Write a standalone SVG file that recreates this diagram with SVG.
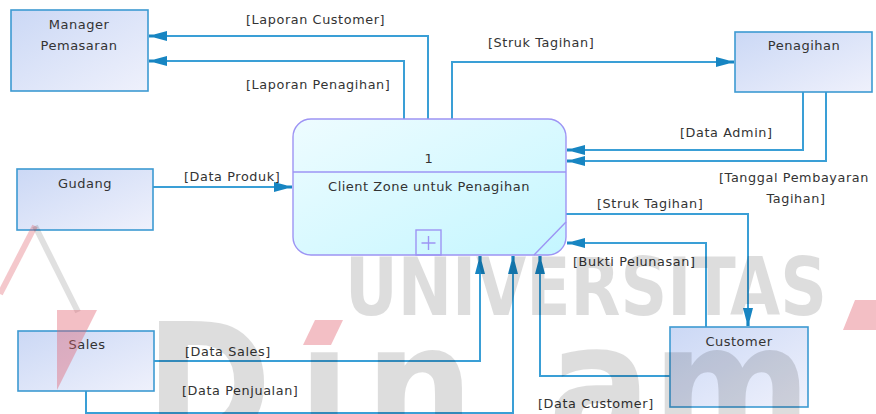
<svg xmlns="http://www.w3.org/2000/svg" width="876" height="414" viewBox="0 0 876 414">
<defs>
<linearGradient id="gBox" x1="0" y1="0" x2="1" y2="1">
<stop offset="0" stop-color="#cbd8f5"/>
<stop offset="1" stop-color="#eff1fc"/>
</linearGradient>
<linearGradient id="gProc" x1="0" y1="0" x2="1" y2="1">
<stop offset="0" stop-color="#eefcff"/>
<stop offset="1" stop-color="#c4f6ff"/>
</linearGradient>
<marker id="arr" viewBox="-19 -6 20 12" refX="0" refY="0" markerWidth="20" markerHeight="12" markerUnits="userSpaceOnUse" orient="auto">
<path d="M0,-1.6 L-5,-1.6 L-18,-5 L-18,5 L-5,1.6 L0,1.6 Z" fill="#1785c2"/>
</marker>
<style>
.box{fill:url(#gBox);stroke:#3d9ad2;stroke-width:1.6}
.proc{fill:url(#gProc);stroke:#9d94f4;stroke-width:1.4}
.pl{fill:none;stroke:#9d94f4;stroke-width:1.4}
.nt{font-family:"DejaVu Sans",sans-serif;font-size:13px;letter-spacing:0.5px;fill:#333;text-anchor:middle}
.lb{font-family:"DejaVu Sans",sans-serif;font-size:12.8px;letter-spacing:0.6px;fill:#333}
.c{fill:none;stroke:#3a9fd6;stroke-width:2}
.ca{fill:none;stroke:#3a9fd6;stroke-width:2;marker-end:url(#arr)}
.wm{font-family:"DejaVu Sans Condensed","DejaVu Sans",sans-serif;font-weight:bold;fill:#000;opacity:0.13}
.wr{fill:#e0606e;opacity:0.4}
</style>
</defs>

<g id="connectors">
<path class="ca" d="M428,119 V36 H149"/>
<path class="ca" d="M404,119 V61 H149"/>
<path class="ca" d="M452,119 V62 H734"/>
<path class="ca" d="M803,92 V150 H567"/>
<path class="ca" d="M826,92 V161 H567"/>
<path class="ca" d="M153,187 H292"/>
<path class="ca" d="M566,214 H748 V326"/>
<path class="ca" d="M706,327 V243 H567"/>
<path class="ca" d="M670,376 H540 V256"/>
<path class="ca" d="M154,361 H480 V256"/>
<path class="ca" d="M86,391 V413 H513 V256"/>
<text class="lb" x="246" y="24">[Laporan Customer]</text>
<text class="lb" x="246" y="89">[Laporan Penagihan]</text>
<text class="lb" x="488" y="47">[Struk Tagihan]</text>
<text class="lb" x="680" y="137">[Data Admin]</text>
<text class="lb" x="794" y="182" text-anchor="middle">[Tanggal Pembayaran</text>
<text class="lb" x="796" y="203" text-anchor="middle">Tagihan]</text>
<text class="lb" x="184" y="181">[Data Produk]</text>
<text class="lb" x="597" y="208">[Struk Tagihan]</text>
<text class="lb" x="573" y="266">[Bukti Pelunasan]</text>
<text class="lb" x="538" y="408">[Data Customer]</text>
<text class="lb" x="185" y="356">[Data Sales]</text>
<text class="lb" x="182" y="395">[Data Penjualan]</text>
</g>

<g id="manager-pemasaran">
<rect class="box" x="11" y="10" width="137" height="81"/>
<text class="nt" x="79" y="29">Manager</text>
<text class="nt" x="79" y="50">Pemasaran</text>
</g>

<g id="penagihan">
<rect class="box" x="735" y="32" width="137" height="60"/>
<text class="nt" x="804" y="50">Penagihan</text>
</g>

<g id="gudang">
<rect class="box" x="17" y="169" width="136" height="61"/>
<text class="nt" x="85" y="188">Gudang</text>
</g>

<g id="sales">
<rect class="box" x="18" y="331" width="136" height="60"/>
<text class="nt" x="87" y="349">Sales</text>
</g>

<g id="customer">
<rect class="box" x="670" y="327" width="138" height="80"/>
<text class="nt" x="739" y="346">Customer</text>
</g>

<g id="process-1">
<rect class="proc" x="293" y="119" width="273" height="136" rx="18" ry="18"/>
<line class="pl" x1="293" y1="172" x2="566" y2="172"/>
<line class="pl" x1="566" y1="222" x2="534" y2="255"/>
<rect class="pl" x="416" y="230" width="25" height="25"/>
<path class="pl" d="M428.5,236 V250 M421.5,243 H435.5"/>
<text class="nt" x="429" y="163">1</text>
<text class="nt" x="429" y="191">Client Zone untuk Penagihan</text>
</g>

<g id="watermark">
<text class="wm" x="345" y="315" font-size="80" textLength="482" lengthAdjust="spacingAndGlyphs">UNIVERSITAS</text>
<text class="wm" x="145" y="445" font-size="170">D</text>
<text class="wm" x="298" y="445" font-size="170">ı</text>
<text class="wm" x="365" y="445" font-size="170">n</text>
<text class="wm" x="548" y="445" font-size="170">a</text>
<text class="wm" x="652" y="445" font-size="170">m</text>
<polygon class="wr" points="303,345 315,320 343,320 331,345"/>
<polygon class="wr" points="843,330 855,300 876,300 876,330"/>
<path d="M35,226 L0,294" stroke="#e0606e" stroke-width="6" opacity="0.35" fill="none"/>
<path d="M35,226 L78,312" stroke="#000" stroke-width="6" opacity="0.12" fill="none"/>
<polygon class="wr" points="57,310 97,310 57,390" opacity="0.3"/>
</g>
</svg>
